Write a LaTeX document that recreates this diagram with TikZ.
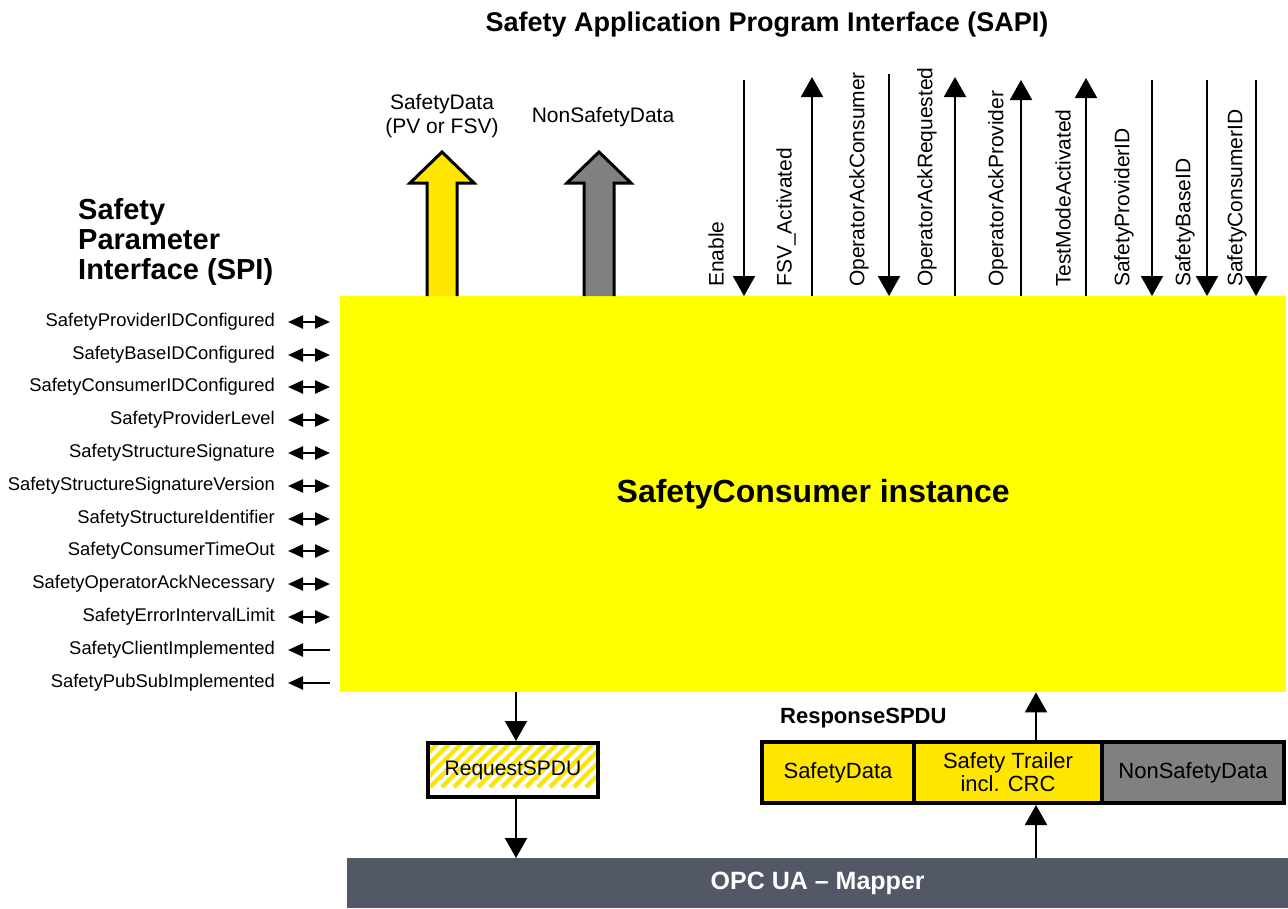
\documentclass[tikz,border=0pt]{standalone}
\usepackage{fontspec}
\setmainfont{Liberation Sans}
\usetikzlibrary{arrows.meta}
\definecolor{coreyellow}{HTML}{FFFF00}
\definecolor{datayellow}{HTML}{FFE600}
\definecolor{datagrey}{HTML}{808080}
\definecolor{mapperblue}{HTML}{525866}
\begin{document}
\begin{tikzpicture}[x=1pt,y=-1pt,
  txt/.style={inner sep=0pt, font=\fontsize{21}{24}\selectfont},
  spilabel/.style={inner sep=0pt, anchor=east, font=\fontsize{18.4}{21}\selectfont},
  sapilabel/.style={inner sep=0pt, anchor=west, rotate=90, font=\fontsize{21}{24}\selectfont},
  heading/.style={inner sep=0pt, font=\fontsize{27}{30}\selectfont\bfseries},
  flow/.style={line width=2pt, -{Triangle[length=20pt,width=22pt]}},
  biarrow/.style={line width=2.4pt, {Triangle[length=15pt,width=13pt]}-{Triangle[length=15pt,width=13pt]}},
  inarrow/.style={line width=2.4pt, {Triangle[length=15pt,width=13pt]}-},
  blockarrow/.style={draw=black, line width=3pt, miter limit=10},
  pdufield/.style={draw=black, line width=4pt, inner sep=0pt, minimum height=61pt, anchor=north west,
    align=center, font=\fontsize{22}{23}\selectfont},
]
\useasboundingbox (0,0) rectangle (1288,908);

% ---- the consumer instance itself
\node[fill=coreyellow, inner sep=0pt, minimum width=946pt, minimum height=396pt, anchor=north west,
      font=\fontsize{32}{36}\selectfont\bfseries] (core) at (340,296) {SafetyConsumer instance};

% ---- headings
\node[heading] (sapi) at (767,25) {Safety Application Program Interface (SAPI)};
\node[heading, font=\fontsize{29}{30}\selectfont\bfseries, anchor=west, align=left] (spi) at (78,242)
  {Safety\\Parameter\\Interface (SPI)};

% ---- safety parameter interface
\foreach \i/\y/\lab/\kind in {
  1/322/SafetyProviderIDConfigured/biarrow,
  2/355/SafetyBaseIDConfigured/biarrow,
  3/387/SafetyConsumerIDConfigured/biarrow,
  4/420/SafetyProviderLevel/biarrow,
  5/453/SafetyStructureSignature/biarrow,
  6/486/SafetyStructureSignatureVersion/biarrow,
  7/519/SafetyStructureIdentifier/biarrow,
  8/551/SafetyConsumerTimeOut/biarrow,
  9/584/SafetyOperatorAckNecessary/biarrow,
  10/617/SafetyErrorIntervalLimit/biarrow,
  11/650/SafetyClientImplemented/inarrow,
  12/683/SafetyPubSubImplemented/inarrow}{
  \node[spilabel] (spi\i) at (275,\y) {\lab};
  \draw[\kind, shorten <=13pt, shorten >=10pt] (spi\i.east) -- (spi\i.east -| core.west);
}

% ---- data outputs (block arrows)
\coordinate (sdx) at (442,0);
\coordinate (nsdx) at (599,0);
\draw[blockarrow, fill=datayellow] ([xshift=-15pt]core.north -| sdx) -- (427,183) -- (410,183) -- (442,152)
   -- (474,183) -- (457,183) -- ([xshift=15pt]core.north -| sdx);
\draw[blockarrow, fill=datagrey] ([xshift=-15pt]core.north -| nsdx) -- (584,183) -- (567,183) -- (599,152)
   -- (631,183) -- (614,183) -- ([xshift=15pt]core.north -| nsdx);
\node[txt, align=center] (sdlab) at (442,116) {SafetyData\\(PV or FSV)};
\node[txt] (nsdlab) at (603,117) {NonSafetyData};

% ---- safety application program interface
\foreach \n/\x/\lx/\top/\lab in {
  en/744/716/80/Enable,
  fsv/812/786/77/FSV\_Activated,
  oac/889/859/74/OperatorAckConsumer,
  oar/955/927/77/OperatorAckRequested,
  oap/1021/998/80/OperatorAckProvider,
  tma/1086/1063/78/TestModeActivated,
  spid/1152/1124/80/SafetyProviderID,
  sbid/1207/1185/80/SafetyBaseID,
  scid/1256/1237/80/SafetyConsumerID}{
  \coordinate (\n top) at (\x,\top);
  \node[sapilabel] (\n lab) at (\lx,287) {\lab};
}
% inputs point into the instance, outputs point away from it
\foreach \n in {en,oac,spid,sbid,scid}{\draw[flow] (\n top) -- (\n top |- core.north);}
\foreach \n in {fsv,oar,oap,tma}{\draw[flow] (\n top |- core.north) -- (\n top);}

% ---- request SPDU (hatched)
\node[draw=black, line width=4pt, minimum width=170pt, minimum height=54pt, inner sep=0pt,
      font=\fontsize{21}{24}\selectfont,
      path picture={
        \foreach \k in {0,...,24}{
          \draw[datayellow, line width=4.5pt]
            ([xshift=\k*12pt-70pt, yshift=10pt]path picture bounding box.south west) -- ++(90,-90);
        }}] (req) at (513,770) {RequestSPDU};

% ---- response SPDU
\node[inner sep=0pt, anchor=west, font=\fontsize{22}{24}\selectfont\bfseries] (resplab) at (780,718) {ResponseSPDU};
\node[pdufield, fill=datayellow, minimum width=152pt] (rsd) at (760,740) {SafetyData};
\node[pdufield, fill=datayellow, minimum width=188pt] (rtr) at (912,740) {Safety Trailer\\incl. CRC};
\node[pdufield, fill=datagrey, minimum width=182pt] (rns) at (1100,740) {NonSafetyData};

% ---- mapper
\node[fill=mapperblue, text=white, inner sep=0pt, minimum width=941pt, minimum height=50pt, anchor=north west,
      font=\fontsize{25}{26}\selectfont\bfseries] (mapper) at (347,858) {OPC UA -- Mapper};

% ---- SPDU flows
\coordinate (reqx) at (516,0);
\coordinate (rspx) at (1036,0);
\draw[flow] (core.south -| reqx) -- (req.north -| reqx);
\draw[flow] (req.south -| reqx) -- (mapper.north -| reqx);
\draw[flow] (mapper.north -| rspx) -- (rtr.south -| rspx);
\draw[flow] (rtr.north -| rspx) -- (core.south -| rspx);
\end{tikzpicture}
\end{document}
